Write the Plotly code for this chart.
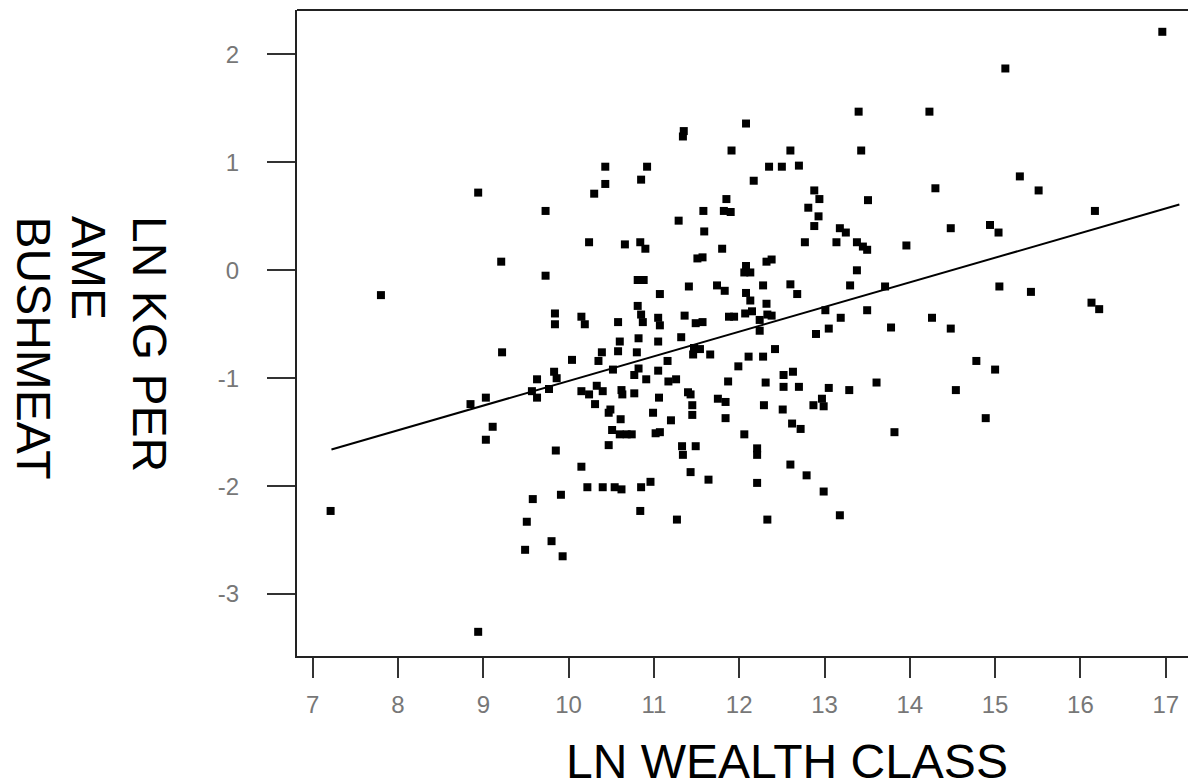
import plotly.graph_objects as go

# ---- data ----
ln_wealth = [
    10.43, 10.92, 10.43, 10.85, 8.94, 10.30, 9.73, 10.24, 10.66, 10.84,
    10.90, 9.21, 9.73, 10.81, 10.88, 7.80, 11.07, 10.81, 9.84, 9.84,
    10.15, 10.19, 10.58, 10.85, 10.87, 11.05, 11.07, 10.82, 11.05, 10.60,
    10.58, 9.22, 10.39, 10.35, 10.04, 10.80, 11.16, 10.52, 10.82, 10.77,
    11.05, 10.91, 9.63, 9.83, 9.86, 11.17, 11.26, 11.32, 9.57, 9.63,
    9.77, 9.03, 8.85, 10.15, 10.24, 10.33, 10.40, 10.31, 10.62, 10.63,
    10.77, 11.06, 10.49, 10.47, 10.99, 10.61, 11.20, 9.11, 9.03, 10.51,
    10.60, 10.68, 10.74, 11.02, 11.07, 10.47, 9.85, 10.15, 10.22, 10.40,
    10.54, 10.62, 10.85, 10.96, 9.91, 9.58, 7.21, 10.84, 11.27, 9.51,
    9.80, 9.49, 9.93, 8.94, 11.35, 11.34, 12.08, 13.40, 14.23, 11.91,
    12.60, 13.43, 12.35, 12.50, 12.70, 12.17, 12.88, 12.94, 12.81, 12.93,
    12.88, 13.51, 11.85, 11.58, 11.82, 11.90, 11.29, 11.59, 11.80, 12.77,
    13.14, 13.18, 13.25, 13.38, 13.45, 13.50, 13.96, 11.51, 11.57, 12.08,
    12.06, 12.13, 12.32, 12.38, 13.38, 11.41, 11.74, 11.83, 12.28, 12.60,
    12.68, 13.30, 13.71, 12.08, 12.13, 12.32, 13.01, 13.50, 11.36, 11.49,
    11.57, 11.88, 11.94, 12.07, 12.15, 12.24, 12.33, 12.38, 13.19, 13.78,
    13.05, 12.24, 12.90, 14.26, 11.47, 11.54, 11.46, 11.66, 12.42, 12.11,
    12.28, 11.99, 12.52, 12.63, 11.87, 12.31, 12.52, 12.70, 13.05, 13.29,
    13.61, 11.40, 11.43, 11.75, 11.84, 12.29, 12.51, 12.87, 12.97, 12.99,
    11.45, 11.45, 11.84, 12.62, 12.72, 12.06, 13.82, 11.33, 11.49, 11.34,
    12.21, 12.21, 11.43, 11.64, 12.60, 12.79, 12.21, 12.99, 12.33, 13.18,
    16.96, 15.12, 15.29, 15.51, 14.30, 16.17, 14.48, 14.94, 15.04, 15.05,
    15.42, 16.13, 16.22, 14.48, 14.78, 15.00, 14.54, 14.89,
]

ln_kg_bushmeat = [
    0.96, 0.96, 0.80, 0.84, 0.72, 0.71, 0.55, 0.26, 0.24, 0.26,
    0.20, 0.08, -0.05, -0.09, -0.09, -0.23, -0.22, -0.33, -0.40, -0.50,
    -0.43, -0.50, -0.48, -0.41, -0.48, -0.44, -0.51, -0.63, -0.66, -0.66,
    -0.75, -0.76, -0.76, -0.84, -0.83, -0.76, -0.84, -0.92, -0.91, -0.97,
    -0.93, -1.01, -1.01, -0.94, -1.00, -1.03, -1.01, -0.62, -1.12, -1.18,
    -1.10, -1.18, -1.24, -1.12, -1.15, -1.07, -1.12, -1.24, -1.11, -1.15,
    -1.14, -1.18, -1.29, -1.32, -1.32, -1.38, -1.39, -1.45, -1.57, -1.48,
    -1.52, -1.52, -1.52, -1.51, -1.50, -1.62, -1.67, -1.82, -2.01, -2.01,
    -2.01, -2.03, -2.01, -1.96, -2.08, -2.12, -2.23, -2.23, -2.31, -2.33,
    -2.51, -2.59, -2.65, -3.35, 1.29, 1.24, 1.36, 1.47, 1.47, 1.11,
    1.11, 1.11, 0.96, 0.96, 0.97, 0.83, 0.74, 0.66, 0.58, 0.50,
    0.41, 0.65, 0.66, 0.55, 0.55, 0.54, 0.46, 0.36, 0.20, 0.26,
    0.26, 0.39, 0.35, 0.26, 0.22, 0.19, 0.23, 0.11, 0.12, 0.04,
    -0.02, -0.02, 0.08, 0.10, 0.00, -0.15, -0.14, -0.19, -0.14, -0.13,
    -0.22, -0.14, -0.15, -0.21, -0.28, -0.31, -0.37, -0.37, -0.42, -0.49,
    -0.48, -0.43, -0.43, -0.40, -0.38, -0.46, -0.41, -0.42, -0.44, -0.53,
    -0.54, -0.56, -0.59, -0.44, -0.72, -0.73, -0.78, -0.78, -0.73, -0.80,
    -0.80, -0.89, -0.97, -0.94, -1.03, -1.04, -1.08, -1.08, -1.09, -1.11,
    -1.04, -1.13, -1.15, -1.19, -1.22, -1.25, -1.29, -1.25, -1.19, -1.26,
    -1.25, -1.34, -1.37, -1.42, -1.47, -1.52, -1.50, -1.63, -1.63, -1.71,
    -1.65, -1.71, -1.87, -1.94, -1.80, -1.90, -1.97, -2.05, -2.31, -2.27,
    2.21, 1.87, 0.87, 0.74, 0.76, 0.55, 0.39, 0.42, 0.35, -0.15,
    -0.20, -0.30, -0.36, -0.54, -0.84, -0.92, -1.11, -1.37,
]

fit_x = [7.22, 17.16]
fit_y = [-1.66, 0.61]

x_tickvals = [7, 8, 9, 10, 11, 12, 13, 14, 15, 16, 17]
x_ticktext = ["7", "8", "9", "10", "11", "12", "13", "14", "15", "16", "17"]
y_tickvals = [-3, -2, -1, 0, 1, 2]
y_ticktext = ["-3", "-2", "-1", "0", "1", "2"]

x_title = "LN WEALTH CLASS"
y_title_lines = ["LN KG PER", "AME", "BUSHMEAT"]

FONT = "Liberation Sans, Arial, sans-serif"

fig = go.Figure()
fig.add_trace(go.Scatter(
    x=ln_wealth, y=ln_kg_bushmeat, mode="markers",
    marker=dict(symbol="square", size=8, color="#000000", line=dict(width=0)),
    showlegend=False, hoverinfo="skip",
))
fig.add_trace(go.Scatter(
    x=fit_x, y=fit_y, mode="lines",
    line=dict(color="#000000", width=2),
    showlegend=False, hoverinfo="skip",
))

axis_common = dict(
    showgrid=False, zeroline=False, showline=True, linecolor="#222222",
    linewidth=2, ticks="outside", tickcolor="#333333", tickwidth=2,
    tickfont=dict(family=FONT, size=24, color="#777777"), automargin=False,
)

# y-title lines (rotated, reading downward), placed line by line
y_title_shifts = [-147, -208, -264]
annotations = [
    dict(text=x_title, xref="paper", yref="paper", x=0.5456, y=0,
         xanchor="center", yanchor="middle", yshift=-105, showarrow=False,
         font=dict(family=FONT, size=48, color="#000000")),
]
for line, xs in zip(y_title_lines, y_title_shifts):
    annotations.append(dict(
        text=line, xref="paper", yref="paper", x=0, y=1,
        xanchor="center", yanchor="top", xshift=xs, yshift=-204,
        textangle=90, showarrow=False,
        font=dict(family=FONT, size=48, color="#000000")))

fig.update_layout(
    width=1188, height=776,
    margin=dict(l=289, r=0, t=2, b=128),
    paper_bgcolor="white", plot_bgcolor="white",
    xaxis=dict(range=[6.816, 17.355], tickmode="array", tickvals=x_tickvals,
               ticktext=x_ticktext, ticklen=20, ticklabelstandoff=6, **axis_common),
    yaxis=dict(range=[-3.574, 2.412], tickmode="array", tickvals=y_tickvals,
               ticktext=y_ticktext, ticklen=28, ticklabelstandoff=23, **axis_common),
    shapes=[dict(type="line", xref="paper", yref="paper", x0=0, x1=1, y0=1, y1=1,
                 line=dict(color="#222222", width=2))],
    annotations=annotations,
)

fig.write_html("out.html")
